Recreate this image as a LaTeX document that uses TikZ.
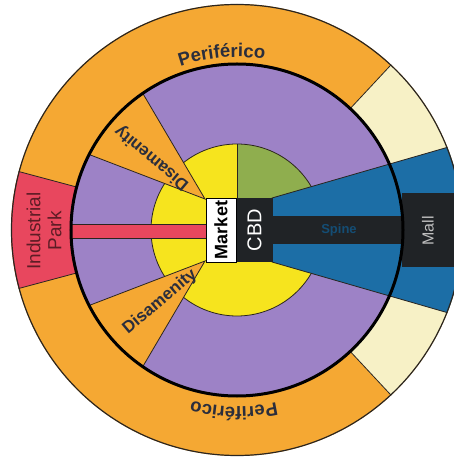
\documentclass[tikz,border=0pt]{standalone}
\usepackage{fontspec}
\setmainfont{Liberation Sans}
\usepackage{graphicx}
\usepackage{tikz}
\usetikzlibrary{positioning,decorations.text}

\definecolor{orng}{HTML}{F5A833}
\definecolor{purp}{HTML}{9D82C6}
\definecolor{yell}{HTML}{F6E41E}
\definecolor{grn}{HTML}{8FAE4E}
\definecolor{blu}{HTML}{1C6EA6}
\definecolor{crm}{HTML}{F7F1C6}
\definecolor{redd}{HTML}{E8475E}
\definecolor{drk}{HTML}{202326}
\definecolor{ink}{HTML}{2B2E3C}
\definecolor{edgec}{HTML}{2A2520}

\newcommand\perifont{\bfseries\fontsize{18.5}{18.5}\selectfont}

\tikzset{
    edge/.style={draw=edgec, line width=0.8pt},
    dis/.style={font=\bfseries\fontsize{17}{17}\selectfont, text=ink, inner sep=0pt},
    mkt/.style={draw=black, fill=white, line width=0.6pt, minimum width=30pt, minimum height=64pt, inner sep=0pt, font=\bfseries\fontsize{18}{18}\selectfont},
    cbd/.style={fill=drk, text=white, minimum width=36pt, minimum height=64pt, inner sep=0pt, font=\fontsize{20}{20}\selectfont},
}

\begin{document}
\begin{tikzpicture}[x=1pt, y=1pt]
    \useasboundingbox (-237,-235) rectangle (217,230);
    \clip (-237,-235) rectangle (217,230);

    \coordinate (o) at (0,0);

    \fill[orng] (o) circle (226pt);
    \fill[crm] (o) -- (0:226pt) arc[start angle=0, end angle=47, radius=226pt] -- cycle;
    \fill[crm] (o) -- (0:226pt) arc[start angle=0, end angle=-47, radius=226pt] -- cycle;
    \fill[redd] (o) -- (165:226pt) arc[start angle=165, end angle=195, radius=226pt] -- cycle;
    \foreach \a in {47,-47,165,195}
        \draw[edge] (\a:166pt) -- (\a:226pt);

    \fill[purp] (o) circle (166pt);
    \fill[yell] (o) circle (86pt);
    \fill[grn] (o) -- (0,86) arc[start angle=90, end angle=0, radius=86pt] -- cycle;
    \draw[edge] (o) circle (86pt);
    \draw[edge] (0,32) -- (0,86);

    \begin{scope}
        \clip (o) circle (166pt);
        \filldraw[orng, edge] (-32,31) -- +(120.5:200pt) -- +(159:200pt) -- cycle;
        \filldraw[orng, edge] (-32,-31) -- +(-120.5:200pt) -- +(-159:200pt) -- cycle;
    \end{scope}
    \filldraw[redd, edge] (-166,-8) rectangle (-31,6);

    \begin{scope}
        \clip (o) circle (226pt);
        \filldraw[blu, edge] (35,32) -- (260,97) -- (260,-97) -- (35,-32) -- cycle;
        \fill[drk] (35,-14) rectangle (230,14);
        \fill[drk] (165,-37) rectangle (230,37);
    \end{scope}

    \draw[black, line width=3pt] (o) circle (166pt);
    \draw[edge, line width=1.2pt] (o) circle (225.5pt);

    \path[decorate, decoration={text along path, text align=center, text color=ink,
        text={|\perifont|Periférico}}] (135:173pt) arc[start angle=135, end angle=55, radius=173pt];
    \path[decorate, decoration={text along path, text align=center, text color=ink,
        text={|\perifont|Periférico}}] (-41:177pt) arc[start angle=-41, end angle=-141, radius=177pt];

    \node[dis, rotate=140] (dis1) at (-85,72) {Disamenity};
    \node[dis, rotate=40] (dis2) at (-77,-72) {Disamenity};

    \node[rotate=90, align=center, text=redd!40!black, font=\fontsize{19}{21}\selectfont] (ind) at (-193,-1) {Industrial\\Park};

    \node[font=\bfseries\fontsize{13}{13}\selectfont, text=blu!70!black] (spine) at (102,0) {Spine};
    \node[rotate=90, font=\fontsize{16}{16}\selectfont, text=white!75!black] (mall) at (191,-1) {Mall};

    \node[mkt] (mkt) at (-16,0) {\rotatebox{90}{Market}};
    \node[cbd, right=0pt of mkt] (cbd) {\rotatebox{90}{CBD}};
\end{tikzpicture}
\end{document}
